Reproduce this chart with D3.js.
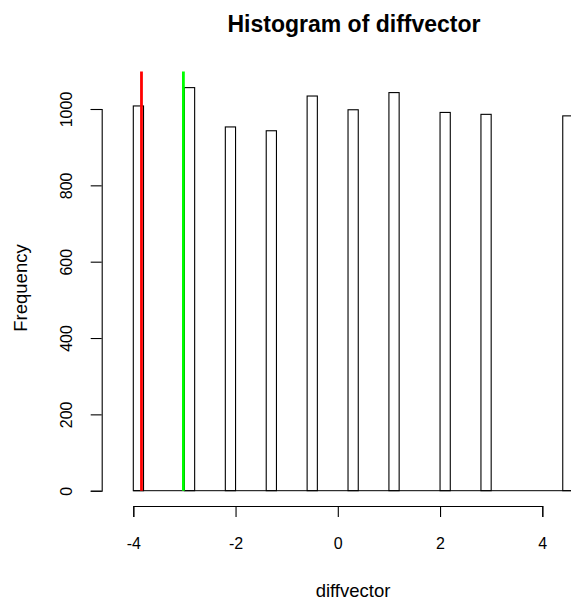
<!DOCTYPE html>
<html>
<head>
<meta charset="utf-8">
<script src="https://cdn.jsdelivr.net/npm/d3@7"></script>
<style>
  body { margin: 0; background: #fff; }
  svg { display: block; font-family: "Liberation Sans", Arial, sans-serif; }
</style>
</head>
<body>
<script>
// histogram bins that hold values (left edge of bin, width 0.2)
var binLeft = [-4.0, -3.0, -2.2, -1.4, -0.6, 0.2, 1.0, 2.0, 2.8, 4.4];
var counts = [1008, 1056, 953, 943, 1034, 998, 1043, 991, 986, 982];
var binWidth = 0.2;
var histRange = [-4, 4.8];

// vertical marker lines
var redLine = -3.84;
var greenLine = -3.02;

var xTicks = [-4, -2, 0, 2, 4];
var yTicks = [0, 200, 400, 600, 800, 1000];

var w = 571, h = 599;

var svg = d3.select("body")
  .append("svg")
  .attr("width", w)
  .attr("height", h);

var x = d3.scaleLinear().domain([-4, 4]).range([133.3, 542.3]);
var y = d3.scaleLinear().domain([0, 1000]).range([490.7, 109]);
var yTop = 1098;   // top of the plot region

// baseline made of the empty bins
svg.append("line")
  .attr("x1", x(histRange[0]))
  .attr("x2", x(histRange[1]))
  .attr("y1", y(0))
  .attr("y2", y(0))
  .attr("stroke", "#000")
  .attr("stroke-width", 1);

svg.selectAll("rect.bar")
  .data(counts)
  .enter()
  .append("rect")
  .attr("class", "bar")
  .attr("x", function(d, i) { return x(binLeft[i]); })
  .attr("y", function(d) { return y(d); })
  .attr("width", function(d, i) { return x(binLeft[i] + binWidth) - x(binLeft[i]); })
  .attr("height", function(d) { return y(0) - y(d); })
  .attr("fill", "none")
  .attr("stroke", "#000")
  .attr("stroke-width", 1.1);

// marker lines
svg.append("line")
  .attr("x1", x(redLine)).attr("x2", x(redLine))
  .attr("y1", y(0)).attr("y2", y(yTop))
  .attr("stroke", "#ff0000")
  .attr("stroke-width", 2.8);

svg.append("line")
  .attr("x1", x(greenLine)).attr("x2", x(greenLine))
  .attr("y1", y(0)).attr("y2", y(yTop))
  .attr("stroke", "#00ff00")
  .attr("stroke-width", 2.8);

// x axis
var xAxis = svg.append("g")
  .attr("transform", "translate(0,506)")
  .call(d3.axisBottom(x).tickValues(xTicks).tickSizeOuter(0).tickSize(11).tickPadding(0)
    .tickFormat(function(d) { return d; }));
xAxis.selectAll("path, line").attr("stroke", "#000").attr("stroke-width", 1.1);
xAxis.selectAll("text")
  .attr("y", 43)
  .attr("dy", null)
  .attr("fill", "#000")
  .attr("font-size", "16px")
  .attr("font-family", "Liberation Sans, Arial, sans-serif");

// y axis
var yAxis = svg.append("g")
  .attr("transform", "translate(101.7,0)")
  .call(d3.axisLeft(y).tickValues(yTicks).tickSizeOuter(0).tickSize(11)
    .tickFormat(function(d) { return d; }));
yAxis.selectAll("path, line").attr("stroke", "#000").attr("stroke-width", 1.1);
yAxis.selectAll("text")
  .attr("x", null)
  .attr("dy", null)
  .attr("transform", "translate(-30,0) rotate(-90)")
  .attr("text-anchor", "middle")
  .attr("y", 0)
  .attr("fill", "#000")
  .attr("font-size", "16px")
  .attr("font-family", "Liberation Sans, Arial, sans-serif");

// title and axis labels
svg.append("text")
  .text("Histogram of diffvector")
  .attr("x", 354)
  .attr("y", 32)
  .attr("text-anchor", "middle")
  .attr("font-weight", "bold")
  .attr("font-size", "23px")
  .attr("fill", "#000");

svg.append("text")
  .text("diffvector")
  .attr("x", 353)
  .attr("y", 596.5)
  .attr("text-anchor", "middle")
  .attr("font-size", "18.5px")
  .attr("fill", "#000");

svg.append("text")
  .text("Frequency")
  .attr("transform", "translate(26.7,288) rotate(-90)")
  .attr("text-anchor", "middle")
  .attr("font-size", "18.5px")
  .attr("fill", "#000");
</script>
</body>
</html>
